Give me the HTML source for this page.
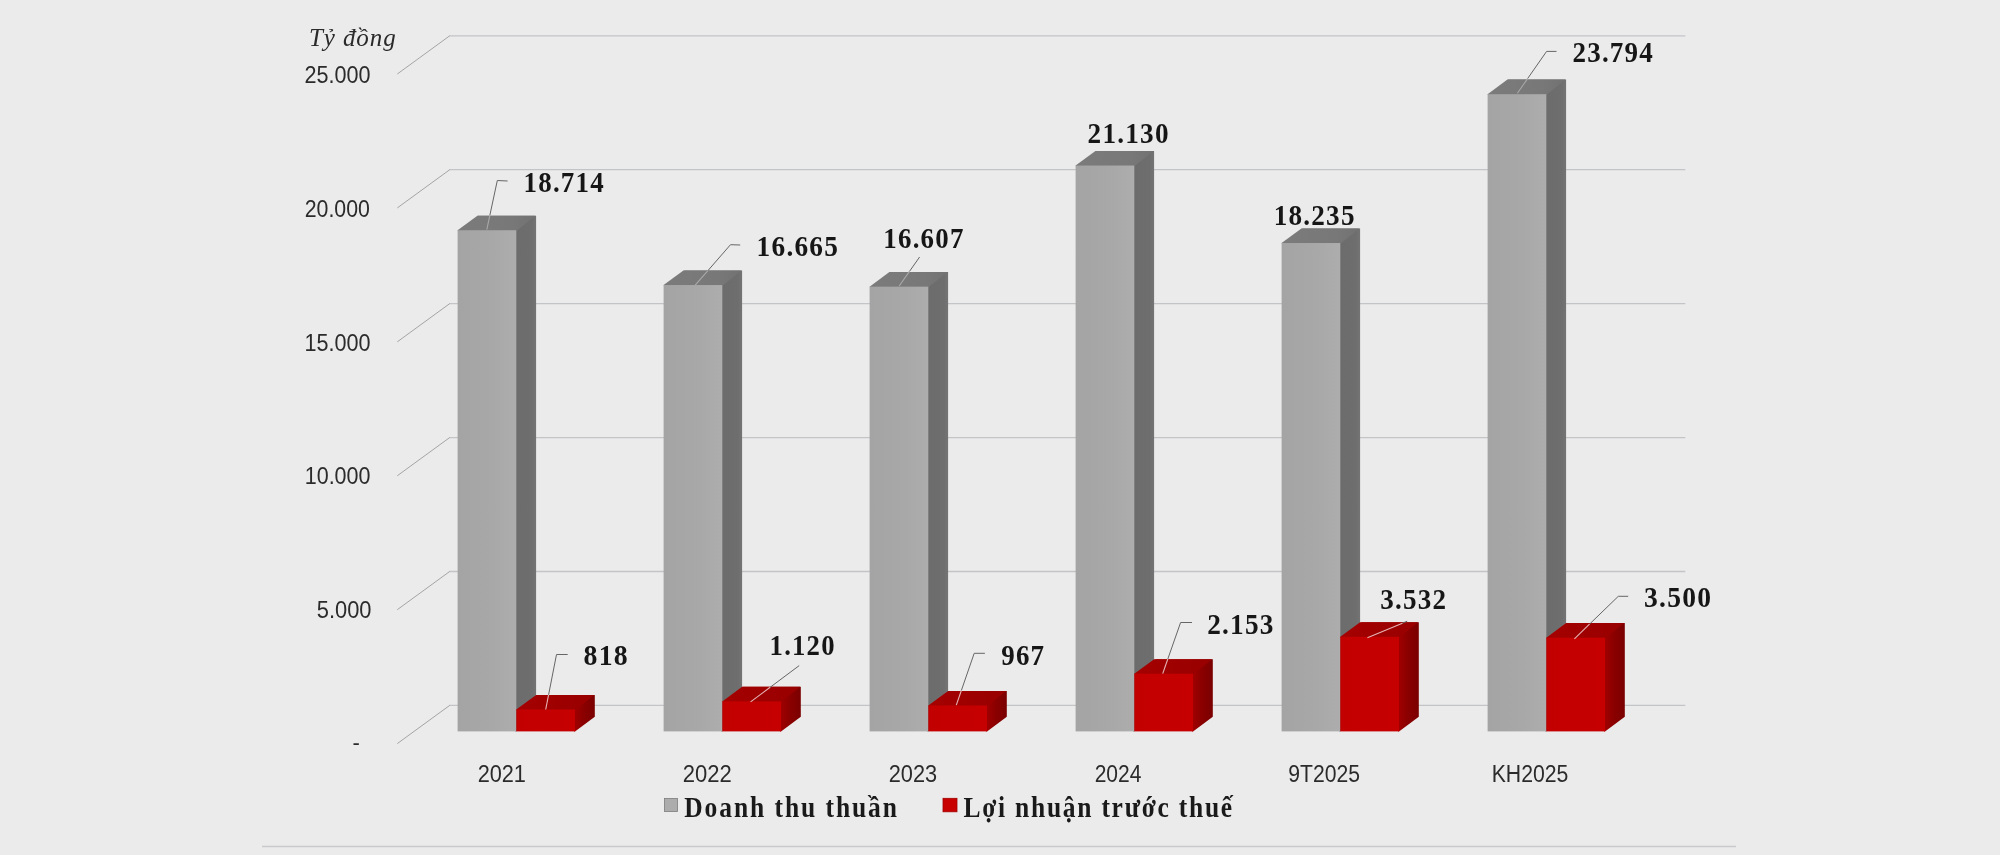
<!DOCTYPE html>
<html><head><meta charset="utf-8"><title>Doanh thu thuần và lợi nhuận trước thuế</title>
<style>
html,body{margin:0;padding:0;background:#ebebeb;}
body{width:2000px;height:855px;overflow:hidden;}
svg{display:block;will-change:transform;}
.v{font-family:"Liberation Serif",serif;font-weight:bold;fill:#161616;letter-spacing:1.3px;}
.y,.x{font-family:"Liberation Sans",sans-serif;fill:#2b2b2b;}
.u{font-family:"Liberation Serif",serif;font-style:italic;font-size:25px;fill:#2a2a2a;letter-spacing:0.9px;}
.l{font-family:"Liberation Serif",serif;font-weight:bold;fill:#1a1a1a;}
</style></head>
<body>
<svg width="2000" height="855" viewBox="0 0 2000 855">
<defs>
<linearGradient id="gf" x1="0" y1="0" x2="1" y2="0"><stop offset="0" stop-color="#a4a4a4"/><stop offset="0.6" stop-color="#a8a8a8"/><stop offset="1" stop-color="#adadad"/></linearGradient>
<linearGradient id="gt" x1="0" y1="0" x2="1" y2="0"><stop offset="0" stop-color="#7b7b7b"/><stop offset="0.7" stop-color="#787878"/><stop offset="1" stop-color="#727272"/></linearGradient>
<linearGradient id="gs" x1="0" y1="0" x2="1" y2="0"><stop offset="0.66" stop-color="#6c6c6c"/><stop offset="0.93" stop-color="#6e6e6e"/><stop offset="1" stop-color="#747474"/></linearGradient>
<linearGradient id="rf" x1="0" y1="0" x2="1" y2="0"><stop offset="0" stop-color="#c30000"/><stop offset="1" stop-color="#c60000"/></linearGradient>
<linearGradient id="rt" x1="0" y1="0" x2="1" y2="0"><stop offset="0" stop-color="#a50000"/><stop offset="1" stop-color="#980000"/></linearGradient>
<linearGradient id="rs" x1="0" y1="0" x2="1" y2="0"><stop offset="0.66" stop-color="#a00000"/><stop offset="0.8" stop-color="#8c0000"/><stop offset="1" stop-color="#7a0000"/></linearGradient>
</defs>
<rect width="2000" height="855" fill="#ebebeb"/>
<line x1="449.2" y1="705.4" x2="1685.3" y2="705.4" stroke="#c3c4c8" stroke-width="1.3"/>
<line x1="397.3" y1="743.6" x2="449.7" y2="705.4" stroke="#9c9c9c" stroke-width="0.9"/>
<line x1="449.2" y1="571.48" x2="1685.3" y2="571.48" stroke="#c3c4c8" stroke-width="1.3"/>
<line x1="397.3" y1="609.68" x2="449.7" y2="571.48" stroke="#9c9c9c" stroke-width="0.9"/>
<line x1="449.2" y1="437.56" x2="1685.3" y2="437.56" stroke="#c3c4c8" stroke-width="1.3"/>
<line x1="397.3" y1="475.76" x2="449.7" y2="437.56" stroke="#9c9c9c" stroke-width="0.9"/>
<line x1="449.2" y1="303.64" x2="1685.3" y2="303.64" stroke="#c3c4c8" stroke-width="1.3"/>
<line x1="397.3" y1="341.84" x2="449.7" y2="303.64" stroke="#9c9c9c" stroke-width="0.9"/>
<line x1="449.2" y1="169.72" x2="1685.3" y2="169.72" stroke="#c3c4c8" stroke-width="1.3"/>
<line x1="397.3" y1="207.92" x2="449.7" y2="169.72" stroke="#9c9c9c" stroke-width="0.9"/>
<line x1="449.2" y1="35.8" x2="1685.3" y2="35.8" stroke="#c3c4c8" stroke-width="1.3"/>
<line x1="397.3" y1="74" x2="449.7" y2="35.8" stroke="#9c9c9c" stroke-width="0.9"/>
<polygon points="515.3,731.4 515.3,230.24 477.4,215.64 536.1,215.64 536.1,716.8 516.3,731.4" fill="url(#gs)"/>
<polygon points="457.6,230.24 457.9,230.94 516.3,230.94 535.5,215.64 477.4,215.64" fill="url(#gt)"/>
<rect x="457.6" y="230.24" width="58.7" height="501.16" fill="url(#gf)"/>
<polygon points="574,731.4 574,709.49 536.1,694.89 594.8,694.89 594.8,716.8 575,731.4" fill="url(#rs)"/>
<polygon points="516.3,709.49 516.6,710.19 575,710.19 594.2,694.89 536.1,694.89" fill="url(#rt)"/>
<rect x="516.3" y="709.49" width="58.7" height="21.91" fill="url(#rf)"/>
<polygon points="721.3,731.4 721.3,285.11 683.4,270.51 742.1,270.51 742.1,716.8 722.3,731.4" fill="url(#gs)"/>
<polygon points="663.6,285.11 663.9,285.81 722.3,285.81 741.5,270.51 683.4,270.51" fill="url(#gt)"/>
<rect x="663.6" y="285.11" width="58.7" height="446.29" fill="url(#gf)"/>
<polygon points="780,731.4 780,701.41 742.1,686.81 800.8,686.81 800.8,716.8 781,731.4" fill="url(#rs)"/>
<polygon points="722.3,701.41 722.6,702.11 781,702.11 800.2,686.81 742.1,686.81" fill="url(#rt)"/>
<rect x="722.3" y="701.41" width="58.7" height="29.99" fill="url(#rf)"/>
<polygon points="927.3,731.4 927.3,286.66 889.4,272.06 948.1,272.06 948.1,716.8 928.3,731.4" fill="url(#gs)"/>
<polygon points="869.6,286.66 869.9,287.36 928.3,287.36 947.5,272.06 889.4,272.06" fill="url(#gt)"/>
<rect x="869.6" y="286.66" width="58.7" height="444.74" fill="url(#gf)"/>
<polygon points="986,731.4 986,705.5 948.1,690.9 1006.8,690.9 1006.8,716.8 987,731.4" fill="url(#rs)"/>
<polygon points="928.3,705.5 928.6,706.2 987,706.2 1006.2,690.9 948.1,690.9" fill="url(#rt)"/>
<rect x="928.3" y="705.5" width="58.7" height="25.9" fill="url(#rf)"/>
<polygon points="1133.3,731.4 1133.3,165.54 1095.4,150.94 1154.1,150.94 1154.1,716.8 1134.3,731.4" fill="url(#gs)"/>
<polygon points="1075.6,165.54 1075.9,166.24 1134.3,166.24 1153.5,150.94 1095.4,150.94" fill="url(#gt)"/>
<rect x="1075.6" y="165.54" width="58.7" height="565.86" fill="url(#gf)"/>
<polygon points="1192,731.4 1192,673.74 1154.1,659.14 1212.8,659.14 1212.8,716.8 1193,731.4" fill="url(#rs)"/>
<polygon points="1134.3,673.74 1134.6,674.44 1193,674.44 1212.2,659.14 1154.1,659.14" fill="url(#rt)"/>
<rect x="1134.3" y="673.74" width="58.7" height="57.66" fill="url(#rf)"/>
<polygon points="1339.3,731.4 1339.3,243.07 1301.4,228.47 1360.1,228.47 1360.1,716.8 1340.3,731.4" fill="url(#gs)"/>
<polygon points="1281.6,243.07 1281.9,243.77 1340.3,243.77 1359.5,228.47 1301.4,228.47" fill="url(#gt)"/>
<rect x="1281.6" y="243.07" width="58.7" height="488.33" fill="url(#gf)"/>
<polygon points="1398,731.4 1398,636.81 1360.1,622.21 1418.8,622.21 1418.8,716.8 1399,731.4" fill="url(#rs)"/>
<polygon points="1340.3,636.81 1340.6,637.51 1399,637.51 1418.2,622.21 1360.1,622.21" fill="url(#rt)"/>
<rect x="1340.3" y="636.81" width="58.7" height="94.59" fill="url(#rf)"/>
<polygon points="1545.3,731.4 1545.3,94.2 1507.4,79.6 1566.1,79.6 1566.1,716.8 1546.3,731.4" fill="url(#gs)"/>
<polygon points="1487.6,94.2 1487.9,94.9 1546.3,94.9 1565.5,79.6 1507.4,79.6" fill="url(#gt)"/>
<rect x="1487.6" y="94.2" width="58.7" height="637.2" fill="url(#gf)"/>
<polygon points="1604,731.4 1604,637.67 1566.1,623.07 1624.8,623.07 1624.8,716.8 1605,731.4" fill="url(#rs)"/>
<polygon points="1546.3,637.67 1546.6,638.37 1605,638.37 1624.2,623.07 1566.1,623.07" fill="url(#rt)"/>
<rect x="1546.3" y="637.67" width="58.7" height="93.73" fill="url(#rf)"/>
<polyline points="489.92,215 497.3,180.5 507.6,181" fill="none" stroke="#666" stroke-width="1"/>
<line x1="486.8" y1="229.6" x2="489.92" y2="215" stroke="#a9a9a9" stroke-width="1.1"/>
<polyline points="707.93,270.6 730.5,244.7 740.2,245" fill="none" stroke="#666" stroke-width="1"/>
<line x1="695.2" y1="285.2" x2="707.93" y2="270.6" stroke="#a9a9a9" stroke-width="1.1"/>
<polyline points="909.47,271.4 919.6,257" fill="none" stroke="#666" stroke-width="1"/>
<line x1="899.2" y1="286" x2="909.47" y2="271.4" stroke="#a9a9a9" stroke-width="1.1"/>
<polyline points="1527.6,78.6 1546.6,51.4 1556.5,51.4" fill="none" stroke="#666" stroke-width="1"/>
<line x1="1517.4" y1="93.2" x2="1527.6" y2="78.6" stroke="#a9a9a9" stroke-width="1.1"/>
<polyline points="548.57,694.9 556.5,654.5 567.7,654.5" fill="none" stroke="#666" stroke-width="1"/>
<line x1="545.7" y1="709.5" x2="548.57" y2="694.9" stroke="#e6b4b4" stroke-width="1.1"/>
<polyline points="770.15,687.3 799.2,665.6" fill="none" stroke="#666" stroke-width="1"/>
<line x1="750.6" y1="701.9" x2="770.15" y2="687.3" stroke="#e6b4b4" stroke-width="1.1"/>
<polyline points="961.35,690.5 974.2,653.3 984.9,653.3" fill="none" stroke="#666" stroke-width="1"/>
<line x1="956.3" y1="705.1" x2="961.35" y2="690.5" stroke="#e6b4b4" stroke-width="1.1"/>
<polyline points="1167.81,659 1180.6,622.5 1192,622.5" fill="none" stroke="#666" stroke-width="1"/>
<line x1="1162.7" y1="673.6" x2="1167.81" y2="659" stroke="#e6b4b4" stroke-width="1.1"/>
<polyline points="1402.4,623.2 1407.2,621.2" fill="none" stroke="#666" stroke-width="1"/>
<line x1="1367.4" y1="637.8" x2="1402.4" y2="623.2" stroke="#e6b4b4" stroke-width="1.1"/>
<polyline points="1589.48,624.2 1618.3,596.3 1628.2,596.3" fill="none" stroke="#666" stroke-width="1"/>
<line x1="1574.4" y1="638.8" x2="1589.48" y2="624.2" stroke="#e6b4b4" stroke-width="1.1"/>
<text transform="translate(523.60 191.88) scale(0.9284 1)" class="v" font-size="29.00">18.714</text>
<text transform="translate(756.60 256.00) scale(0.9432 1)" class="v" font-size="29.00">16.665</text>
<text transform="translate(883.34 247.56) scale(0.9277 1)" class="v" font-size="29.00">16.607</text>
<text transform="translate(1087.58 142.50) scale(0.9389 1)" class="v" font-size="29.00">21.130</text>
<text transform="translate(1273.72 224.94) scale(0.9369 1)" class="v" font-size="29.00">18.235</text>
<text transform="translate(1572.46 62.38) scale(0.9321 1)" class="v" font-size="29.00">23.794</text>
<text transform="translate(583.58 665.44) scale(0.9577 1)" class="v" font-size="29.00">818</text>
<text transform="translate(769.60 655.38) scale(0.9212 1)" class="v" font-size="29.00">1.120</text>
<text transform="translate(1001.26 664.56) scale(0.9296 1)" class="v" font-size="29.00">967</text>
<text transform="translate(1207.14 633.88) scale(0.9408 1)" class="v" font-size="29.00">2.153</text>
<text transform="translate(1380.26 608.88) scale(0.9325 1)" class="v" font-size="29.00">3.532</text>
<text transform="translate(1644.08 607.38) scale(0.9506 1)" class="v" font-size="29.00">3.500</text>
<text transform="translate(304.52 83.00) scale(0.9311 1)" class="y" font-size="23.20">25.000</text>
<text transform="translate(304.70 217.12) scale(0.9194 1)" class="y" font-size="23.20">20.000</text>
<text transform="translate(304.46 350.50) scale(0.9319 1)" class="y" font-size="23.20">15.000</text>
<text transform="translate(304.72 484.00) scale(0.9277 1)" class="y" font-size="23.20">10.000</text>
<text transform="translate(316.76 618.06) scale(0.9435 1)" class="y" font-size="23.20">5.000</text>
<text transform="translate(477.64 782.00) scale(0.9239 1)" class="x" font-size="23.50">2021</text>
<text transform="translate(682.70 781.88) scale(0.9385 1)" class="x" font-size="23.50">2022</text>
<text transform="translate(888.70 782.06) scale(0.9260 1)" class="x" font-size="23.50">2023</text>
<text transform="translate(1094.64 782.06) scale(0.8951 1)" class="x" font-size="23.50">2024</text>
<text transform="translate(1288.26 782.00) scale(0.8998 1)" class="x" font-size="23.50">9T2025</text>
<text transform="translate(1491.72 782.00) scale(0.9033 1)" class="x" font-size="23.50">KH2025</text>
<text x="359.8" y="750.2" class="y" font-size="22" text-anchor="end">-</text>
<text x="309" y="46.2" class="u">Tỷ đồng</text>
<rect x="664.5" y="798.5" width="13" height="13" fill="#acacac" stroke="#7c7c7c" stroke-width="0.8"/>
<rect x="943" y="798.3" width="14" height="13.5" fill="#c80000" stroke="#a00000" stroke-width="0.8"/>
<line x1="262" y1="846.5" x2="1736" y2="846.5" stroke="#c9c9cc" stroke-width="1.5"/>
<text transform="translate(684.20 816.60) scale(0.8800 1)" class="l" font-size="29" letter-spacing="2.20">Doanh thu thuần</text>
<text transform="translate(963.50 816.60) scale(0.8800 1)" class="l" font-size="29" letter-spacing="1.98">Lợi nhuận trước thuế</text>
</svg>
</body></html>
